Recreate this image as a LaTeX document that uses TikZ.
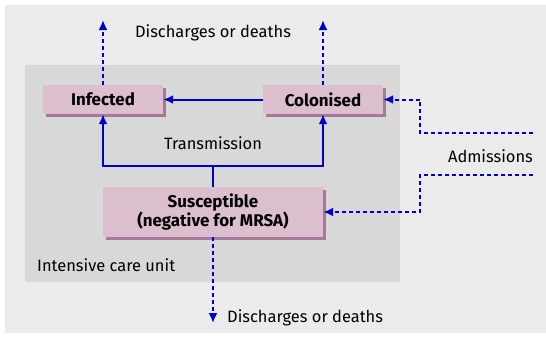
\documentclass[tikz,border=0pt]{standalone}
\usepackage{fontspec}
\setmainfont{Fira Sans}
\usetikzlibrary{arrows.meta}
\definecolor{outerbg}{HTML}{EBEBEB}
\definecolor{icubg}{HTML}{D8D8D8}
\definecolor{boxfill}{HTML}{DCBFCF}
\definecolor{boxshadow}{HTML}{A87898}
\definecolor{flowblue}{HTML}{0000CC}
\tikzset{
  statebox/.style={draw=none, fill=boxfill, font=\bfseries\fontsize{17}{20}\selectfont, align=center, inner sep=0pt},
  solidflow/.style={draw=flowblue, line width=2bp, -{Latex[length=10bp,width=9bp]}},
  dashflow/.style={draw=flowblue, line width=2bp, dash pattern=on 4bp off 3bp, -{Latex[length=10bp,width=9bp]}},
  solidline/.style={draw=flowblue, line width=2bp},
  lbl/.style={font=\fontsize{16.5}{19}\selectfont, inner sep=0pt}
}
\begin{document}
\begin{tikzpicture}[x=1bp,y=-1bp]
\useasboundingbox (0,0) rectangle (546,338);
\fill[white] (0,0) rectangle (546,338);
\fill[outerbg] (5,5) rectangle (546,333);
\fill[icubg] (25,65) rectangle (400,282);
% shadows
\fill[boxshadow] (46,88) rectangle (166,117);
\fill[boxshadow] (266,88) rectangle (386,117);
\fill[boxshadow] (106,190) rectangle (326,240);
% boxes
\node[statebox, minimum width=120bp, minimum height=29bp] (inf) at (103,99.5) {Infected};
\node[statebox, minimum width=120bp, minimum height=29bp] (col) at (323,99.5) {Colonised};
\node[statebox, minimum width=220bp, minimum height=50bp] (sus) at (213,212) {Susceptible\\(negative for MRSA)};
% labels
\node[lbl] (dtop) at (213,33) {Discharges or deaths};
\node[lbl, anchor=west] (dbot) at (227,318) {Discharges or deaths};
\node[lbl] (trans) at (213,143) {Transmission};
\node[lbl, anchor=east] (adm) at (533,156) {Admissions};
\node[lbl, anchor=west] (icu) at (37,265) {Intensive care unit};
% coordinates
\coordinate (infout) at (103,20);
\coordinate (colout) at (323,20);
\coordinate (susout) at (213,323);
\coordinate (split) at (213,166);
\coordinate (adm1) at (533,133);
\coordinate (adm1c) at (420,133);
\coordinate (adm1t) at (420,99.5);
\coordinate (adm2) at (533,175);
\coordinate (adm2c) at (420,175);
\coordinate (adm2t) at (420,212);
% transitions
\draw[solidflow] (col.west) -- (inf.east);
\draw[solidline] (sus.north) -- (split);
\draw[solidflow] (split) -| (inf.south);
\draw[solidflow] (split) -| (col.south);
% discharges
\draw[dashflow] (inf.north) -- (infout);
\draw[dashflow] (col.north) -- (colout);
\draw[dashflow] (sus.south) -- (susout);
% admissions
\draw[dashflow] (adm1) -- (adm1c) -- (adm1t) -- (col.east);
\draw[dashflow] (adm2) -- (adm2c) -- (adm2t) -- (sus.east);
\end{tikzpicture}
\end{document}
